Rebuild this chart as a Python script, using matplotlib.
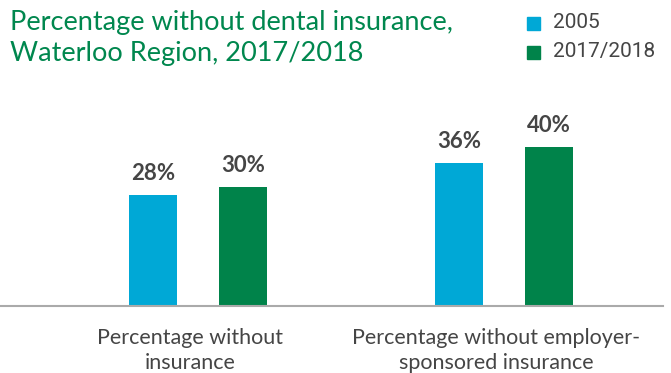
import matplotlib.pyplot as plt
import numpy as np

categories = ["Percentage without\ninsurance", "Percentage without employer-\nsponsored insurance"]
series_names = ["2005", "2017/2018"]
values_2005 = [28, 36]
values_2018 = [30, 40]

blue = "#00A8D6"
green = "#00834A"
grey_text = "#454545"

W, H = 671, 373
fig = plt.figure(figsize=(W / 100, H / 100), dpi=100)

# axes placed in pixel terms: baseline at y=306, right end at x=663
ax = fig.add_axes([0, (H - 306) / H, 663 / W, (306 - 80) / H])

x = np.arange(len(categories))
bw = 48 / 306
off = 45 / 306
b1 = ax.bar(x - off, values_2005, bw, color=blue)
b2 = ax.bar(x + off, values_2018, bw, color=green)

for bars in (b1, b2):
    for r in bars:
        ax.annotate(f"{r.get_height():.0f}%", (r.get_x() + r.get_width() / 2, r.get_height()),
                    xytext=(0, 8), textcoords="offset points", ha="center", va="bottom",
                    fontsize=16, fontweight="bold", color=grey_text, family="Lato")

ax.set_xlim(-198 / 306, 465 / 306)
ax.set_ylim(0, (306 - 80) / 3.97)
for s in ("top", "right", "left"):
    ax.spines[s].set_visible(False)
ax.spines["bottom"].set_color("#aaaaaa")
ax.spines["bottom"].set_linewidth(1.5)
ax.set_yticks([])
ax.set_xticks(x - 0.025)
ax.set_xticklabels(categories, fontsize=15.5, color=grey_text, family="Lato", linespacing=1.3)
ax.tick_params(axis="x", length=0, pad=16)

fig.text(10 / W, 1 - 10 / H, "Percentage without dental insurance,\nWaterloo Region, 2017/2018",
         ha="left", va="top", fontsize=19.5, color="#00874E", family="Lato", linespacing=1.3)

# legend drawn by hand to match the placement
for i, (name, c) in enumerate(zip(series_names, [blue, green])):
    y = 23 + i * 29
    fig.patches.append(plt.Rectangle((527 / W, 1 - (y + 7) / H), 13 / W, 13 / H,
                                     transform=fig.transFigure, color=c, figure=fig))
    fig.text(553 / W, 1 - y / H, name, ha="left", va="center", fontsize=15,
             color=grey_text, family="Roboto")

fig.savefig("out.png", dpi=100)
